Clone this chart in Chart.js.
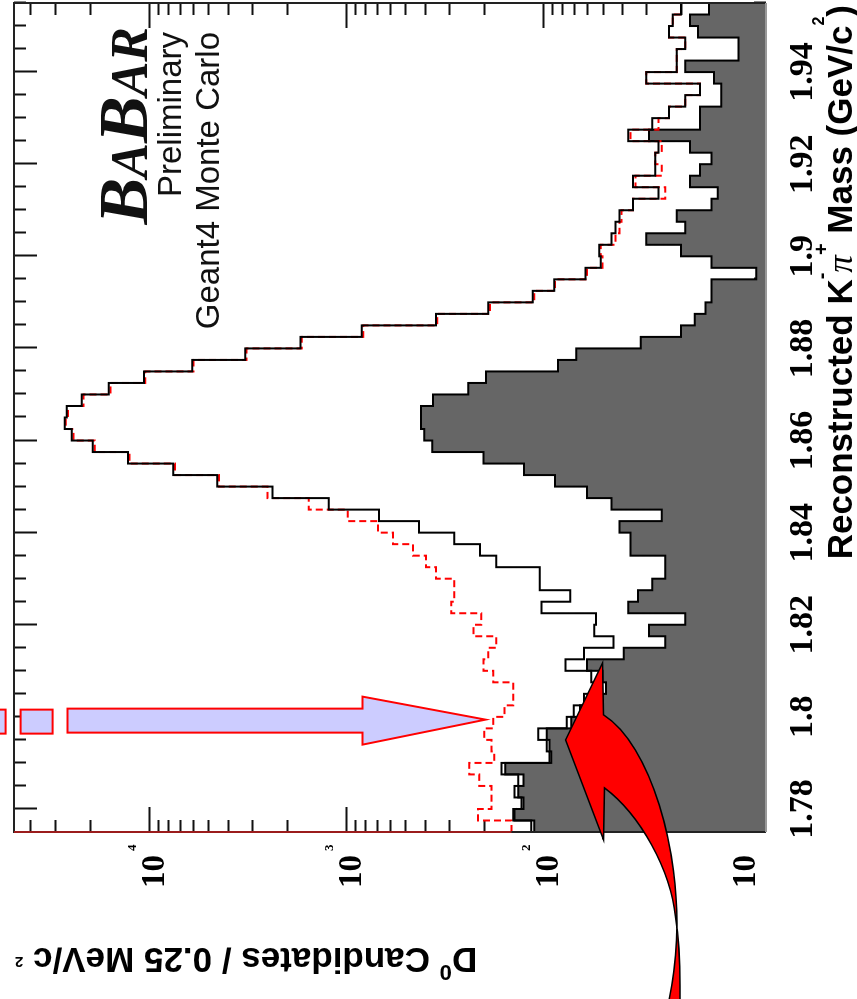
<!DOCTYPE html>
<html>
<head>
<meta charset="utf-8">
<title>D0 -> K pi mass, Geant4 Monte Carlo</title>
<script src="https://cdn.jsdelivr.net/npm/chart.js@4.4.0/dist/chart.umd.min.js"></script>
<style>
  html, body { margin: 0; padding: 0; background: #fff; overflow: hidden; }
  #page { position: relative; width: 857px; height: 999px; }
  /* the plot is laid out landscape, then turned a quarter to the left */
  #turn { position: absolute; left: 0; top: 0; width: 999px; height: 857px;
          transform-origin: 0 0; transform: translate(0, 999px) rotate(-90deg); }
</style>
</head>
<body>
<div id="page"><div id="turn"><canvas id="massChart" width="999" height="857"></canvas></div></div>
<script>
// Histogram binning (GeV/c^2)
const MASS_MIN = 1.775;
const MASS_MAX = 1.955;
const BIN_WIDTH = 0.0025;

// Candidates per bin, lowest mass first (72 bins)
const totalCounts = [
  115, 142, 129, 140, 134, 163, 93, 96, 106, 76,
  70, 62, 52, 57, 77, 62, 44, 55, 54, 102,
  73, 104, 104, 173, 209, 283, 427, 682, 1226, 2365,
  4510, 7553, 12810, 19310, 24710, 26820, 26200, 21970, 16010, 10620,
  6046, 3247, 1703, 833, 350, 190, 113, 88, 61, 51,
  52, 45, 43, 41, 35, 26, 35, 27, 27, 26,
  37, 28, 23, 19, 16, 30, 21, 21, 19, 23,
  22, 20
];
const dashedCounts = [
  145, 214, 183, 183, 211, 237, 177, 183, 199, 179,
  157, 142, 142, 179, 201, 190, 173, 226, 206, 293,
  283, 283, 350, 393, 458, 579, 690, 981, 1550, 2508,
  4420, 7400, 12560, 18900, 24200, 26500, 25800, 21500, 15700, 10450,
  5950, 3200, 1680, 820, 345, 186, 111, 87, 60, 50,
  51, 43, 41, 40, 35, 24, 34, 25, 27, 25,
  36, 26, 23, 19, 16, 30, 21, 21, 19, 23,
  22, 20
];
const backgroundCounts = [
  111, 140, 126, 134, 126, 156, 91, 93, 96, 72,
  65, 57, 48, 50, 60, 39, 24, 29, 19, 37,
  33, 28, 24, 24, 36, 36, 41, 25, 45, 60,
  87, 125, 201, 366, 402, 417, 417, 362, 240, 195,
  84, 68, 32, 20, 17, 15, 14, 14, 8.3, 14,
  20, 30, 19, 21, 14, 13, 18, 16, 14, 18,
  29, 16, 16, 12.5, 12.5, 13.6, 19, 10.2, 10.2, 16.4,
  18, 14.4
];

// Axis labels and ranges
const massTicks = [1.78, 1.80, 1.82, 1.84, 1.86, 1.88, 1.90, 1.92, 1.94];
const countDecades = [10, 100, 1000, 10000];
const decadeExponents = ['', '2', '3', '4'];
const COUNT_MIN = 7.4;
const COUNT_MAX = 48500;

// Where the two annotation arrows point (mass, candidates)
const blueArrowTip = { mass: 1.7994, counts: 196 };
const redArrowTip = { mass: 1.7950, counts: 77 };

const SANS = '"Liberation Sans", Arial, sans-serif';
const SERIF = '"Liberation Serif", "Times New Roman", serif';

// one point per bin edge, stepped so each bin is flat
function toSteps(counts) {
    const pts = counts.map((c, i) => ({ x: MASS_MIN + i * BIN_WIDTH, y: c }));
    pts.push({ x: MASS_MAX, y: counts[counts.length - 1] });
    return pts;
}

// text made of pieces: [text, font, rise]
function drawRich(ctx, parts, xEnd, yBase) {
    let w = 0;
    parts.forEach(p => { ctx.font = p[1]; w += ctx.measureText(p[0]).width; });
    let cx = xEnd - w;
    ctx.textAlign = 'left';
    ctx.textBaseline = 'alphabetic';
    parts.forEach(p => {
        ctx.font = p[1];
        ctx.fillText(p[0], cx, yBase - p[2]);
        cx += ctx.measureText(p[0]).width;
    });
}

// Frame, inward ticks, labels and annotations
const babarFrame = {
    id: 'babarFrame',
    beforeDatasetsDraw(chart) {
        const { ctx, chartArea: a, scales: { x, y } } = chart;
        ctx.save();
        ctx.strokeStyle = '#111';
        ctx.lineWidth = 2;
        ctx.beginPath();
        for (let i = 0; ; i++) {
            const m = 1.78 + i * 0.005;
            if (m > MASS_MAX) break;
            const px = Math.round(x.getPixelForValue(m)) + 0.5;
            const len = i % 4 === 0 ? 23 : 12;
            ctx.moveTo(px, a.top); ctx.lineTo(px, a.top + len);
            ctx.moveTo(px, a.bottom); ctx.lineTo(px, a.bottom - len);
        }
        [1, 10, 100, 1000, 10000].forEach(d => {
            for (let k = 1; k <= 9; k++) {
                const v = d * k;
                if (v < COUNT_MIN || v > COUNT_MAX) continue;
                const py = Math.round(y.getPixelForValue(v)) + 0.5;
                const len = k === 1 ? 25 : 12;
                ctx.moveTo(a.left, py); ctx.lineTo(a.left + len, py);
                ctx.moveTo(a.right, py); ctx.lineTo(a.right - len, py);
            }
        });
        ctx.stroke();
        ctx.restore();
    },
    afterDatasetsDraw(chart) {
        const { ctx, chartArea: a, scales: { y } } = chart;
        ctx.save();
        ctx.lineWidth = 2;
        ctx.strokeStyle = '#222';
        ctx.beginPath();
        ctx.moveTo(a.left, a.bottom);
        ctx.lineTo(a.left, a.top);
        ctx.lineTo(a.right, a.top);
        ctx.lineTo(a.right, a.bottom);
        ctx.stroke();
        ctx.strokeStyle = '#999';
        ctx.beginPath();
        ctx.moveTo(a.left, a.bottom);
        ctx.lineTo(a.right, a.bottom);
        ctx.stroke();
        ctx.strokeStyle = '#9b1c1c';
        ctx.beginPath();
        ctx.moveTo(a.left, a.top);
        ctx.lineTo(a.left, y.getPixelForValue(dashedCounts[0]));
        ctx.stroke();
        ctx.restore();
    },
    afterDraw(chart) {
        const { ctx, scales: { x, y } } = chart;
        ctx.save();
        ctx.fillStyle = '#000';

        // mass tick labels
        ctx.font = 'bold 34px ' + SERIF;
        ctx.textAlign = 'center';
        ctx.textBaseline = 'alphabetic';
        massTicks.forEach(m => {
            ctx.fillText(String(+m.toFixed(2)), x.getPixelForValue(m), 812);
        });

        // count decade labels, 10 with a small raised exponent
        countDecades.forEach((v, i) => {
            const py = y.getPixelForValue(v);
            ctx.font = 'bold 33px ' + SERIF;
            ctx.textAlign = 'right';
            ctx.fillText('10', 144, py + 15);
            if (decadeExponents[i]) {
                ctx.font = 'bold 13px ' + SERIF;
                ctx.textAlign = 'left';
                ctx.fillText(decadeExponents[i], 148, py - 13);
            }
        });

        // axis titles (right aligned, ROOT style)
        drawRich(ctx, [
            ['Reconstructed K', 'bold 35px ' + SANS, 0],
            ['-', 'bold 20px ' + SANS, 24],
            ['\u03c0', 'italic 35px ' + SERIF, 0],
            ['+', 'bold 20px ' + SANS, 24],
            [' Mass (GeV/c', 'bold 35px ' + SANS, 0],
            ['2', 'bold 16px ' + SANS, 28],
            [')', 'bold 35px ' + SANS, 0]
        ], 994, 852);

        ctx.save();
        ctx.translate(51, 15);
        ctx.rotate(-Math.PI / 2);
        drawRich(ctx, [
            ['D', 'bold 35px ' + SANS, 0],
            ['0', 'bold 22px ' + SANS, 17],
            [' Candidates / 0.25 MeV/c ', 'bold 35px ' + SANS, 0],
            ['2', 'bold 15px ' + SANS, 9]
        ], 0, 0);
        ctx.restore();

        // experiment label
        ctx.fillStyle = '#111';
        drawRich(ctx, [
            ['B', 'italic bold 70px ' + SERIF, 0],
            ['A', 'italic bold 52px ' + SERIF, 0],
            ['B', 'italic bold 70px ' + SERIF, 0],
            ['AR', 'italic bold 52px ' + SERIF, 0]
        ], 972, 147);
        ctx.font = '33px ' + SANS;
        ctx.textAlign = 'right';
        ctx.fillText('Preliminary', 967, 181);
        ctx.fillText('Geant4 Monte Carlo', 967, 219);

        // annotation arrows, drawn in page orientation around their tips
        const bx = x.getPixelForValue(blueArrowTip.mass);
        const by = y.getPixelForValue(blueArrowTip.counts);
        ctx.save();
        ctx.translate(bx, by);
        ctx.rotate(Math.PI / 2);
        ctx.fillStyle = '#ccccff';
        ctx.strokeStyle = '#ff0000';
        ctx.lineWidth = 2;
        ctx.lineJoin = 'miter';
        ctx.beginPath();
        ctx.moveTo(-418, -11);
        ctx.lineTo(-123, -11);
        ctx.lineTo(-123, -23);
        ctx.lineTo(0, 0);
        ctx.lineTo(-123, 25);
        ctx.lineTo(-123, 13);
        ctx.lineTo(-418, 13);
        ctx.closePath();
        ctx.fill();
        ctx.stroke();
        [[-465, -433], [-505, -480]].forEach(([l, r]) => {
            ctx.fillRect(l, -10, r - l, 24);
            ctx.strokeRect(l, -10, r - l, 24);
        });
        ctx.restore();

        const rx = x.getPixelForValue(redArrowTip.mass);
        const ry = y.getPixelForValue(redArrowTip.counts);
        ctx.save();
        ctx.translate(rx, ry);
        ctx.rotate(Math.PI / 2);
        ctx.fillStyle = '#ff0000';
        ctx.strokeStyle = '#000';
        ctx.lineWidth = 1.5;
        ctx.beginPath();
        ctx.moveTo(0, 0);
        ctx.lineTo(37, -77);
        ctx.lineTo(38, -25);
        ctx.bezierCurveTo(85, 5, 115, 110, 111, 200);
        ctx.quadraticCurveTo(109, 240, 100, 275);
        ctx.lineTo(114, 275);
        ctx.quadraticCurveTo(116, 215, 110, 177);
        ctx.bezierCurveTo(105, 130, 75, 75, 39, 48);
        ctx.lineTo(38, 100);
        ctx.closePath();
        ctx.fill();
        ctx.stroke();
        ctx.restore();

        ctx.restore();
    }
};

new Chart(document.getElementById('massChart'), {
    type: 'line',
    data: {
        datasets: [
            {
                label: 'All candidates',
                data: toSteps(totalCounts),
                stepped: 'before',
                borderColor: '#000',
                borderWidth: 2,
                pointRadius: 0,
                fill: false,
                order: 0
            },
            {
                label: 'Geant4 (dashed)',
                data: toSteps(dashedCounts),
                stepped: 'before',
                borderColor: '#ff0000',
                borderWidth: 2,
                borderDash: [7, 4],
                pointRadius: 0,
                fill: false,
                order: 1
            },
            {
                label: 'Background',
                data: toSteps(backgroundCounts),
                stepped: 'before',
                borderColor: '#000',
                borderWidth: 2,
                backgroundColor: '#666666',
                pointRadius: 0,
                fill: 'start',
                order: 2
            }
        ]
    },
    options: {
        responsive: false,
        animation: false,
        layout: { padding: { left: 167, right: 3, top: 14, bottom: 91 } },
        scales: {
            x: { type: 'linear', min: MASS_MIN, max: MASS_MAX, display: false },
            y: { type: 'logarithmic', min: COUNT_MIN, max: COUNT_MAX, display: false }
        },
        plugins: {
            legend: { display: false },
            tooltip: { enabled: false }
        }
    },
    plugins: [babarFrame]
});
</script>
</body>
</html>
